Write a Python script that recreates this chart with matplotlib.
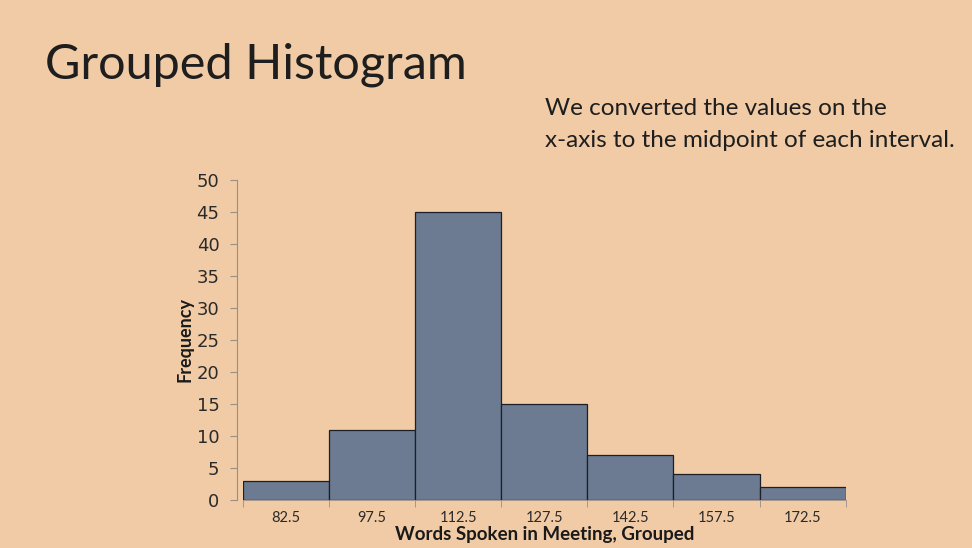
import matplotlib
matplotlib.use("Agg")
import matplotlib.pyplot as plt
import numpy as np

# grouped data
midpoints = [82.5, 97.5, 112.5, 127.5, 142.5, 157.5, 172.5]
freq = [3, 11, 45, 15, 7, 4, 2]
tick_labels = ["82.5", "97.5", "112.5", "127.5", "142.5", "157.5", "172.5"]
bin_width = 15

bg = "#f1cba6"
bar_col = "#6c7b91"

fig = plt.figure(figsize=(9.72, 5.48), dpi=100, facecolor=bg)
ax = fig.add_axes([0.25, 0.0876, 0.62, 0.584])
ax.set_facecolor(bg)

ax.bar(midpoints, freq, width=bin_width, color=bar_col, edgecolor="#1c1f28", linewidth=0.9)

ax.set_xlim(midpoints[0] - bin_width / 2, midpoints[-1] + bin_width / 2)
ax.set_ylim(0, 50)
ax.set_yticks(np.arange(0, 51, 5))
ax.tick_params(axis="y", direction="out", length=5, width=0.8, color="#9a8f86",
               labelsize=13, labelcolor="#2a2a2a", pad=8)
for lab in ax.get_yticklabels():
    lab.set_family("Lato")

# ticks at bin edges, labels at the midpoints
edges = [m - bin_width / 2 for m in midpoints] + [midpoints[-1] + bin_width / 2]
ax.set_xticks(edges)
ax.set_xticklabels([])
ax.tick_params(axis="x", which="major", direction="out", length=5, width=0.6, color="#9a8f86")
ax.set_xticks(midpoints, minor=True)
ax.set_xticklabels(tick_labels, minor=True, family="Lato", fontsize=10.5, color="#2a2a2a")
ax.tick_params(axis="x", which="minor", length=0, pad=8)

for s in ["top", "right"]:
    ax.spines[s].set_visible(False)
ax.spines["left"].set_color("#9a8f86")
ax.spines["left"].set_linewidth(0.8)
ax.spines["left"].set_position(("outward", 4))
ax.spines["bottom"].set_color("#9a8f86")
ax.spines["bottom"].set_linewidth(0.6)

ax.set_xlabel("Words Spoken in Meeting, Grouped", family="Lato", fontsize=13.5,
              fontweight="bold", color="#1a1a1a", labelpad=1)
ax.set_ylabel("Frequency", family="Lato", fontsize=13, fontweight="bold",
              color="#1a1a1a", labelpad=2)

fig.text(0.046, 0.881, "Grouped Histogram", family="Lato", fontsize=35,
         color="#1e1e1e", va="center", ha="left")
fig.text(0.561, 0.772, "We converted the values on the\nx-axis to the midpoint of each interval.",
         family="Lato", fontsize=17.5, color="#1e1e1e", va="center", ha="left",
         linespacing=1.65)

fig.savefig("out.png", dpi=100, facecolor=bg)
